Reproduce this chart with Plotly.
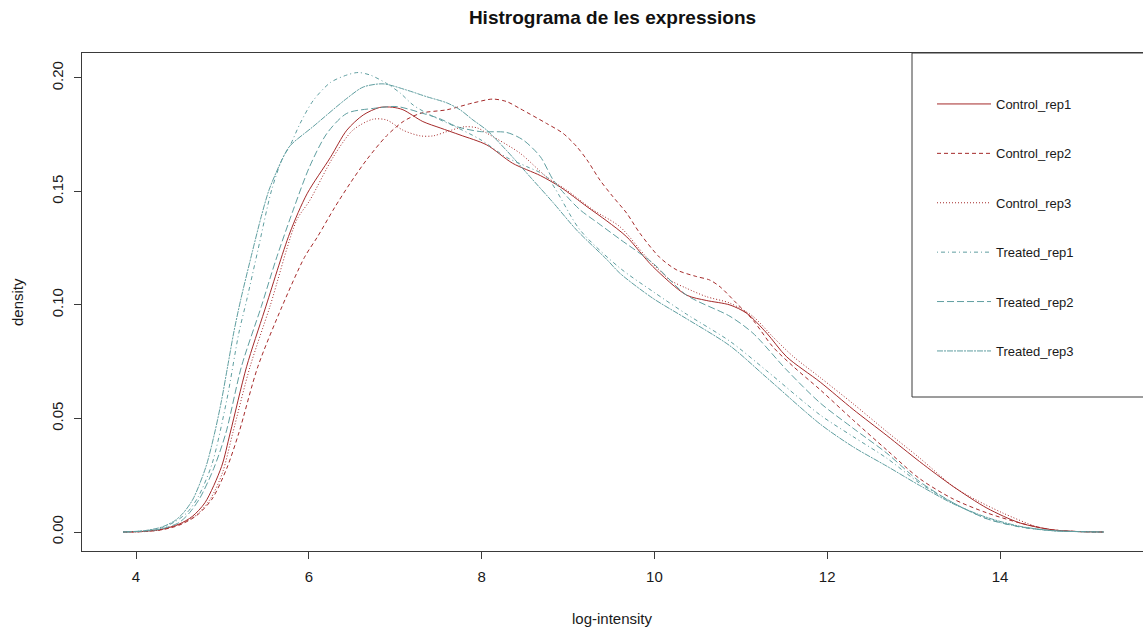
import plotly.graph_objects as go

# ---- data ----
series_names = ["Control_rep1", "Control_rep2", "Control_rep3",
                "Treated_rep1", "Treated_rep2", "Treated_rep3"]

c1_x = [3.85, 4.1, 4.3, 4.5, 4.65, 4.8, 4.99, 5.09, 5.28, 5.49, 5.78, 5.98, 6.25, 6.44, 6.63, 6.82, 6.97,
        7.09, 7.32, 7.52, 7.75, 8.06, 8.36, 8.68, 8.91, 9.22, 9.45, 9.68, 9.98, 10.37, 10.6, 10.875, 11.07,
        11.3, 11.53, 11.92, 12.3, 12.69, 13.07, 13.46, 13.85, 14.23, 14.6, 14.9, 15.2]
c1_y = [0, 0.0003, 0.0012, 0.0035, 0.0068, 0.013, 0.0288, 0.0436, 0.0728, 0.0978, 0.1317, 0.149, 0.165, 0.177,
        0.1837, 0.187, 0.1871, 0.186, 0.1808, 0.178, 0.1749, 0.1705, 0.1624, 0.157, 0.152, 0.1433, 0.137, 0.130,
        0.117, 0.1044, 0.102, 0.100, 0.0963, 0.0876, 0.0772, 0.066, 0.054, 0.0425, 0.031, 0.020, 0.0105,
        0.004, 0.001, 0.0002, 0]

c2_x = [3.85, 4.1, 4.3, 4.5, 4.7, 4.88, 5.05, 5.19, 5.41, 5.69, 5.95, 6.1, 6.3, 6.48, 6.67, 6.9, 7.1, 7.3,
        7.6, 7.9, 8.13, 8.29, 8.44, 8.75, 8.94, 9.10, 9.22, 9.37, 9.52, 9.68, 9.83, 10.06, 10.26, 10.49,
        10.64, 10.76, 10.95, 11.14, 11.37, 11.61, 11.92, 12.3, 12.69, 13.07, 13.46, 13.85, 14.23, 14.6,
        14.9, 15.2]
c2_y = [0, 0.0002, 0.001, 0.003, 0.0072, 0.0145, 0.028, 0.0436, 0.0728, 0.0993, 0.121, 0.130, 0.143, 0.1537,
        0.164, 0.1745, 0.181, 0.1845, 0.186, 0.189, 0.1907, 0.1896, 0.1866, 0.180, 0.1757, 0.1698, 0.1639,
        0.155, 0.1477, 0.1404, 0.1317, 0.121, 0.1154, 0.1125, 0.111, 0.108, 0.1008, 0.0934, 0.0816, 0.0728,
        0.0626, 0.0493, 0.0361, 0.0235, 0.0145, 0.0084, 0.004, 0.001, 0.0002, 0]

c3_x = [3.85, 4.1, 4.3, 4.5, 4.7, 4.86, 5.0, 5.12, 5.32, 5.55, 5.86, 6.01, 6.28, 6.51, 6.74, 6.9, 7.09, 7.29,
        7.44, 7.6, 7.8, 7.95, 8.06, 8.44, 8.75, 8.98, 9.29, 9.6, 9.91, 10.18, 10.37, 10.6, 10.875, 11.14,
        11.37, 11.61, 11.92, 12.3, 12.69, 13.07, 13.46, 13.65, 14.03, 14.43, 14.7, 15.0, 15.2]
c3_y = [0, 0.0002, 0.0011, 0.0033, 0.0075, 0.0145, 0.026, 0.0436, 0.0728, 0.0993, 0.1374, 0.146, 0.165, 0.177,
        0.1818, 0.1815, 0.177, 0.1745, 0.1745, 0.1764, 0.1785, 0.178, 0.1757, 0.167, 0.1565, 0.1507, 0.1419,
        0.1345, 0.121, 0.111, 0.1074, 0.1037, 0.1008, 0.095, 0.086, 0.0772, 0.068, 0.0565, 0.0442, 0.0326,
        0.020, 0.0156, 0.0084, 0.0023, 0.0006, 0.0001, 0]

t1_x = [3.85, 4.1, 4.3, 4.45, 4.59, 4.72, 4.88, 5.05, 5.19, 5.28, 5.41, 5.57, 5.70, 5.78, 5.90, 6.05, 6.25,
        6.44, 6.57, 6.71, 6.90, 7.06, 7.21, 7.44, 7.67, 7.98, 8.29, 8.52, 8.75, 9.14, 9.6, 9.98, 10.37,
        10.875, 11.3, 11.92, 12.3, 12.69, 13.07, 13.46, 13.85, 14.23, 14.6, 15.0, 15.2]
t1_y = [0, 0.0005, 0.0018, 0.0045, 0.0085, 0.0155, 0.030, 0.058, 0.0876, 0.102, 0.124, 0.1507, 0.165, 0.170,
        0.180, 0.190, 0.198, 0.2013, 0.2024, 0.2013, 0.1976, 0.1933, 0.188, 0.183, 0.179, 0.173, 0.165,
        0.161, 0.1565, 0.133, 0.1163, 0.106, 0.096, 0.084, 0.071, 0.0515, 0.042, 0.0325, 0.0215, 0.0128,
        0.0058, 0.0022, 0.0006, 0.0001, 0]

t2_x = [3.85, 4.1, 4.3, 4.5, 4.62, 4.74, 4.9, 5.04, 5.22, 5.45, 5.62, 5.82, 6.01, 6.21, 6.44, 6.75, 7.02,
        7.32, 7.52, 7.71, 7.98, 8.29, 8.48, 8.68, 8.83, 8.99, 9.14, 9.35, 9.6, 9.98, 10.37, 10.875, 11.14,
        11.53, 11.92, 12.3, 12.69, 13.07, 13.46, 13.85, 14.23, 14.6, 15.0, 15.2]
t2_y = [0, 0.0004, 0.0014, 0.0042, 0.0085, 0.015, 0.028, 0.0436, 0.0728, 0.0993, 0.120, 0.1419, 0.161, 0.1756,
        0.1844, 0.1866, 0.1874, 0.1844, 0.182, 0.1786, 0.1764, 0.176, 0.1727, 0.1653, 0.155, 0.1477, 0.1419,
        0.136, 0.129, 0.1185, 0.1044, 0.095, 0.0876, 0.0714, 0.0568, 0.0457, 0.0347, 0.0222, 0.0128,
        0.0058, 0.0023, 0.0006, 0.0001, 0]

t3_x = [3.85, 4.1, 4.3, 4.45, 4.55, 4.66, 4.81, 4.91, 4.99, 5.06, 5.13, 5.21, 5.35, 5.45, 5.54, 5.69, 5.78,
        6.05, 6.44, 6.63, 6.86, 7.13, 7.36, 7.60, 7.75, 7.90, 8.06, 8.29, 8.56, 8.83, 9.10, 9.45, 9.6, 9.98,
        10.37, 10.875, 11.3, 11.92, 12.3, 12.69, 13.07, 13.46, 13.85, 14.23, 14.6, 15.0, 15.2]
t3_y = [0, 0.0006, 0.0022, 0.005, 0.0085, 0.0145, 0.0288, 0.0436, 0.058, 0.0728, 0.0876, 0.102, 0.124, 0.139,
        0.1507, 0.164, 0.170, 0.1786, 0.191, 0.196, 0.1974, 0.1947, 0.1918, 0.189, 0.186, 0.1815, 0.177,
        0.168, 0.1565, 0.145, 0.133, 0.120, 0.114, 0.103, 0.094, 0.082, 0.068, 0.0475, 0.0375, 0.029,
        0.0205, 0.0124, 0.0064, 0.0025, 0.0006, 0.0001, 0]

xs = [c1_x, c2_x, c3_x, t1_x, t2_x, t3_x]
ys = [c1_y, c2_y, c3_y, t1_y, t2_y, t3_y]

x_ticks = [4, 6, 8, 10, 12, 14]
y_ticks = [0.00, 0.05, 0.10, 0.15, 0.20]
y_tick_text = ["0.00", "0.05", "0.10", "0.15", "0.20"]

# ---- styles ----
colors = ["#A52A2A", "#A52A2A", "#A52A2A", "#5F9EA0", "#5F9EA0", "#5F9EA0"]
dashes = ["solid", "4px,3px", "1px,2px", "1px,3px,4px,3px", "7px,3px", "6px,1px,2px,1px"]

FONT = "Liberation Sans, Arial, sans-serif"
AX = "#3a3a3a"

fig = go.Figure()
for name, x, y, c, d in zip(series_names, xs, ys, colors, dashes):
    fig.add_trace(go.Scatter(
        x=x, y=y, mode="lines", name=name, legendgroup=name,
        line=dict(color=c, width=1, dash=d, shape="spline", smoothing=0.8),
    ))

fig.update_layout(
    width=1143, height=633,
    margin=dict(l=82, r=0, t=53, b=82),
    paper_bgcolor="white", plot_bgcolor="white",
    font=dict(family=FONT, size=15, color="#1a1a1a"),
    title=dict(text="<b>Histrograma de les expressions</b>", x=0.5, xref="paper",
               y=1 - 17 / 633, yref="container", yanchor="middle", xanchor="center",
               font=dict(size=19, family=FONT, color="#111")),
    showlegend=True,
    legend=dict(x=(932 - 82) / 1061, xanchor="left", y=(551 - 89) / 498, yanchor="top",
                bgcolor="rgba(0,0,0,0)", borderwidth=0, tracegroupgap=29.5,
                font=dict(size=13, family=FONT, color="#1a1a1a"), itemwidth=54),
    shapes=[dict(type="rect", xref="paper", yref="paper",
                 x0=(912 - 82) / 1061, x1=1.01, y0=(551 - 397) / 498, y1=1.0,
                 line=dict(color=AX, width=1), fillcolor="rgba(0,0,0,0)")],
    annotations=[
        dict(text="log-intensity", x=0.5, xref="paper", y=0, yref="paper", yshift=-67,
             xanchor="center", yanchor="middle", showarrow=False,
             font=dict(size=15, family=FONT, color="#1a1a1a")),
        dict(text="density", x=0, xref="paper", y=0.5, yref="paper", xshift=-65,
             xanchor="center", yanchor="middle", showarrow=False, textangle=-90,
             font=dict(size=15, family=FONT, color="#1a1a1a")),
    ],
)

fig.update_xaxes(range=[3.375, 15.655], tickvals=x_ticks, ticks="outside", ticklen=7,
                 tickcolor=AX, showline=True, linecolor=AX, linewidth=1, mirror=True,
                 showgrid=False, zeroline=False, ticklabelstandoff=5)
fig.update_yaxes(range=[-0.00837, 0.2110], tickvals=y_ticks, ticktext=y_tick_text, ticks="outside",
                 ticklen=7, tickcolor=AX, showline=True, linecolor=AX, linewidth=1, mirror=True,
                 showgrid=False, zeroline=False, tickangle=-90, ticklabelstandoff=5)

fig.write_html("out.html")
